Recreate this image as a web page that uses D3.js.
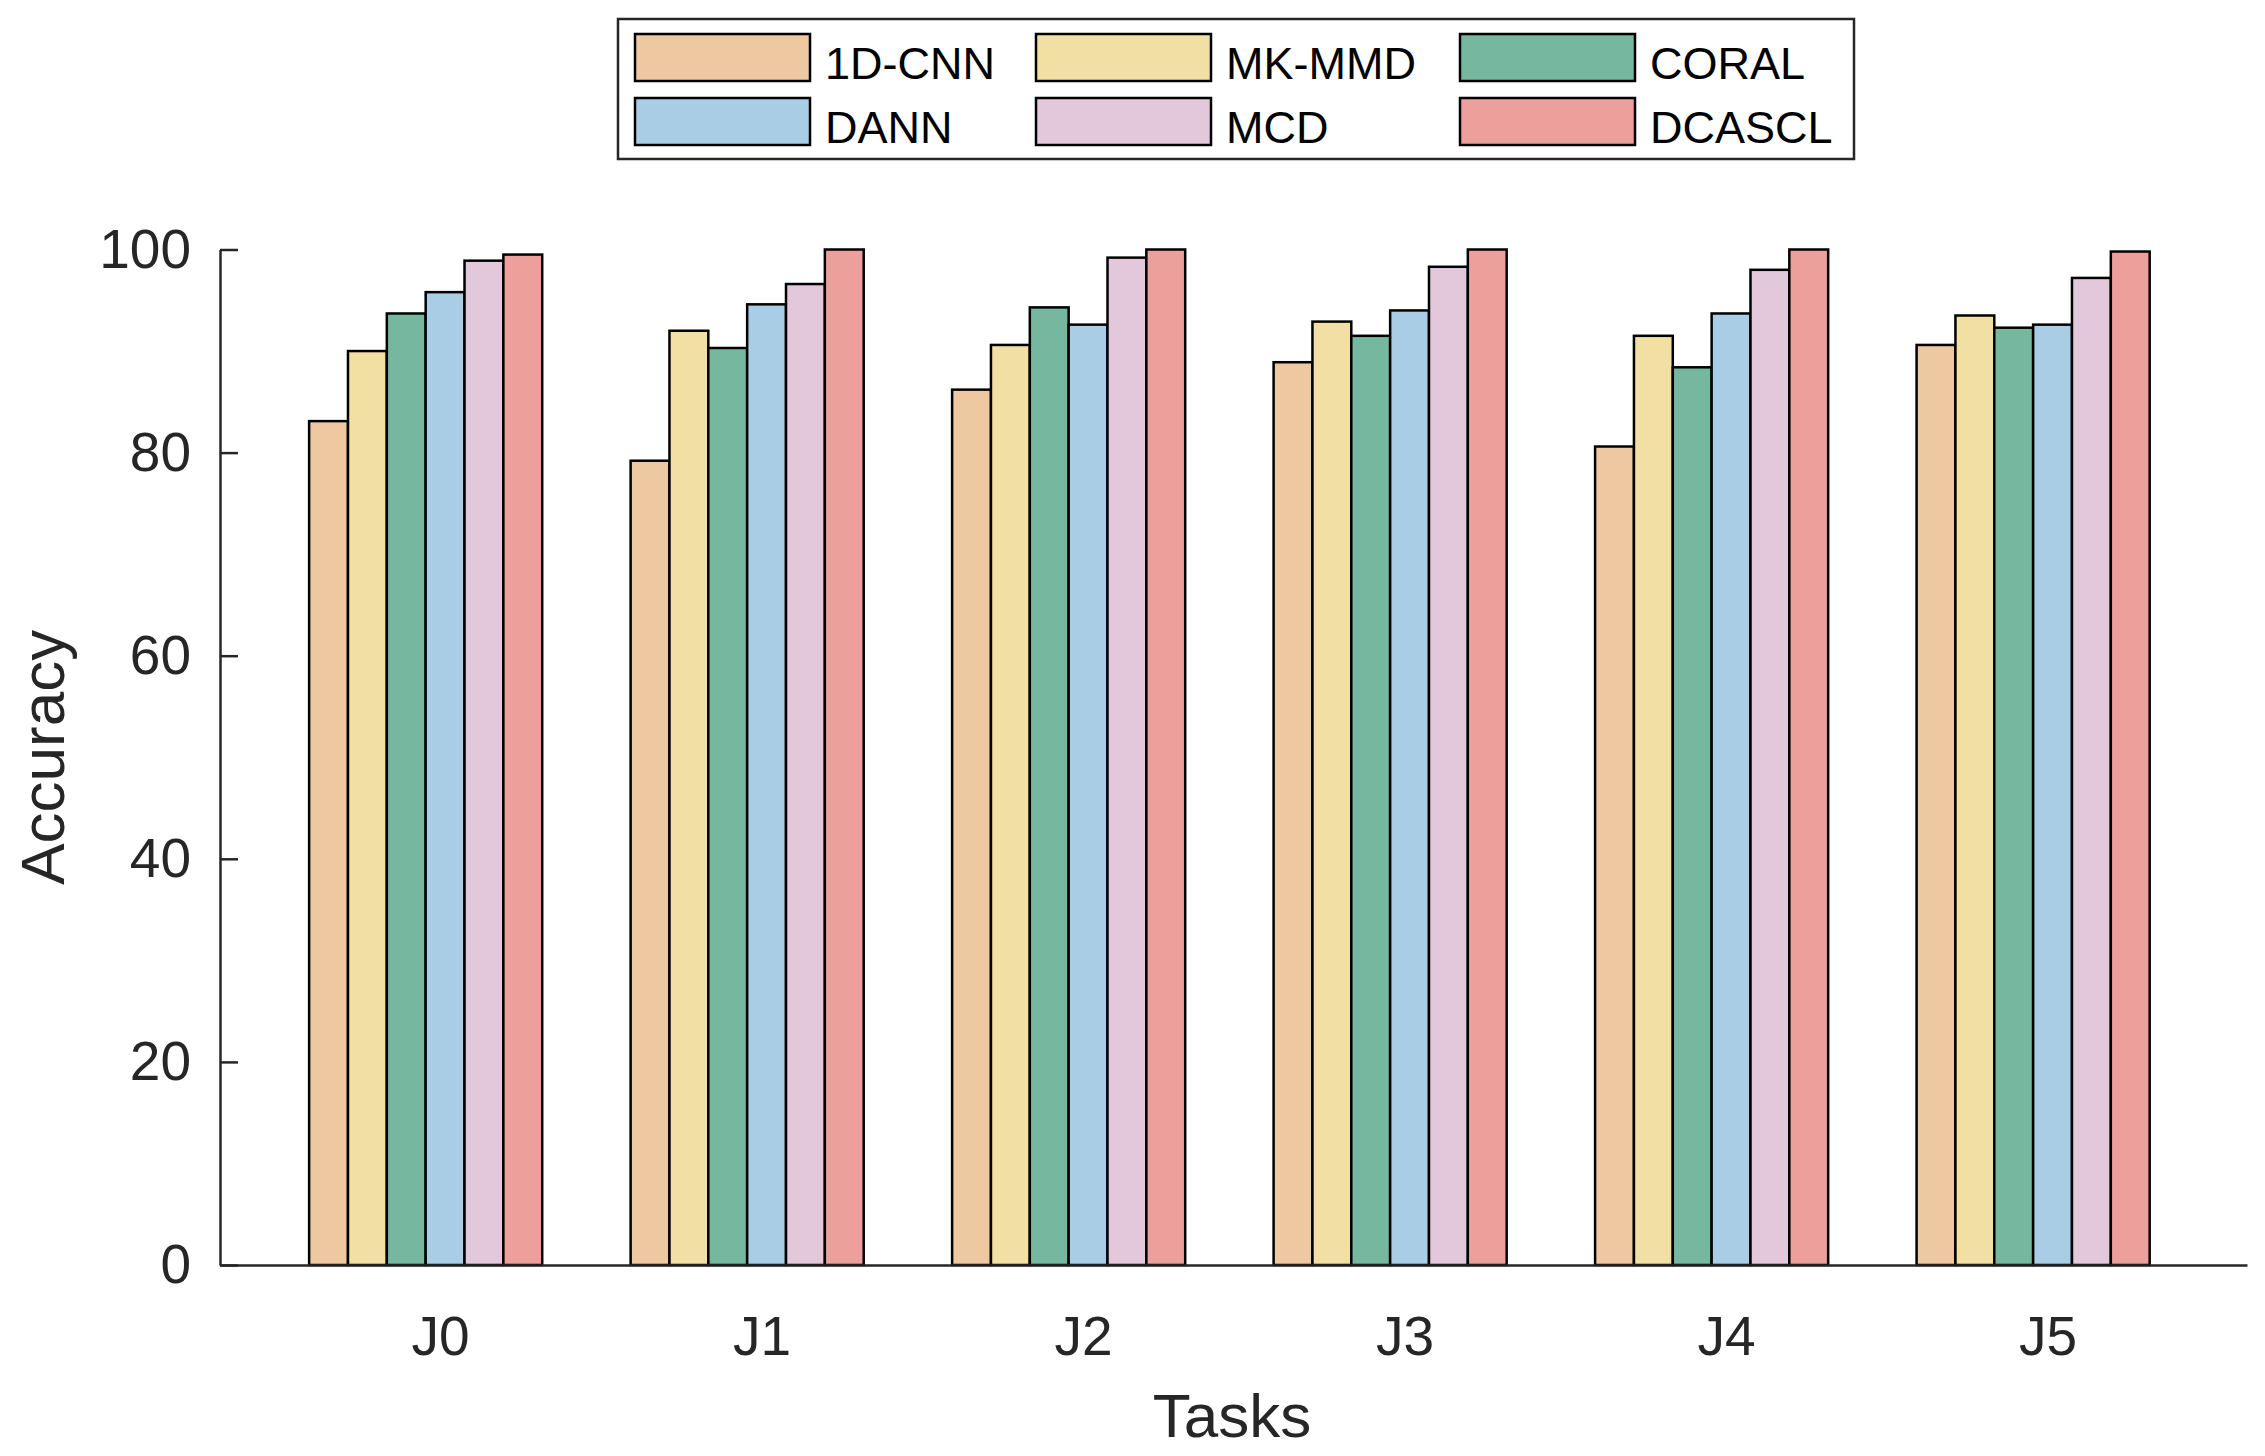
<!DOCTYPE html>
<html>
<head>
<meta charset="utf-8">
<title>Accuracy by task</title>
<script src="https://cdn.jsdelivr.net/npm/d3@7"></script>
<style>
    body { margin: 0; background: white; }
    #RankContainer { width: 2265px; height: 1456px; }
</style>
</head>
<body>
<div id="RankContainer"></div>
<script>
const Tasks = ["J0", "J1", "J2", "J3", "J4", "J5"];
const Methods = ["1D-CNN", "MK-MMD", "CORAL", "DANN", "MCD", "DCASCL"];
const MethodColors = ["#EEC8A0", "#F1DFA4", "#76B7A0", "#A8CDE4", "#E2C8DA", "#ED9F9B"];
const YTicks = [0, 20, 40, 60, 80, 100];

// one array per method, one value per task
const Cnn1D  = [83.1, 79.2, 86.2, 88.9, 80.6, 90.6];
const MkMmd  = [90.0, 92.0, 90.6, 92.9, 91.5, 93.5];
const Coral  = [93.7, 90.3, 94.3, 91.5, 88.4, 92.3];
const Dann   = [95.8, 94.6, 92.6, 94.0, 93.7, 92.6];
const Mcd    = [98.9, 96.6, 99.2, 98.3, 98.0, 97.2];
const Dcascl = [99.5, 100.0, 100.0, 100.0, 100.0, 99.8];

const SeriesValues = [Cnn1D, MkMmd, Coral, Dann, Mcd, Dcascl];

function BuildRows()
{
    return Tasks.map((Task, t) =>
    {
        return {
            Task: Task,
            Values: Methods.map((Method, m) => ({ Method: Method, Value: SeriesValues[m][t], Color: MethodColors[m] }))
        };
    });
}

function DrawChart(Rows)
{
    const Width = 2265;
    const Height = 1456;
    const FontFamily = '"Liberation Sans", Arial, Helvetica, sans-serif';
    const AxisColor = '#262626';
    const Plot = { left: 220, right: 2247, top: 249.5, bottom: 1265 };

    const Svg = d3.select('#RankContainer')
                  .append('svg')
                  .attr('width', Width)
                  .attr('height', Height)
                  .style('background-color', 'white')
                  .style('font-family', FontFamily);

    const xScale = d3.scaleBand()
                     .domain(Tasks)
                     .range([Plot.left, Plot.right])
                     .paddingInner(0.275)
                     .paddingOuter(0.29)
                     .align(0.478);
    const xInner = d3.scaleBand()
                     .domain(Methods)
                     .range([0, xScale.bandwidth()]);
    const yScale = d3.scaleLinear()
                     .domain([0, 100])
                     .range([Plot.bottom, Plot.top]);

    // bars
    Rows.forEach(Row =>
    {
        const Group = Svg.append('g')
                         .attr('transform', `translate(${xScale(Row.Task)}, 0)`);
        Group.selectAll('rect')
             .data(Row.Values)
             .enter()
             .append('rect')
             .attr('x', d => xInner(d.Method))
             .attr('y', d => yScale(d.Value))
             .attr('width', xInner.bandwidth())
             .attr('height', d => yScale(0) - yScale(d.Value))
             .attr('fill', d => d.Color)
             .attr('stroke', 'black')
             .attr('stroke-width', 2.5);
    });

    // y axis (ticks point inward like MATLAB)
    const yAxis = Svg.append('g')
                     .attr('transform', `translate(${Plot.left}, 0)`)
                     .call(d3.axisLeft(yScale).tickValues(YTicks).tickSizeInner(-18).tickSizeOuter(0).tickPadding(29));
    yAxis.select('.domain').attr('stroke', AxisColor).attr('stroke-width', 2.5);
    yAxis.selectAll('.tick line').attr('stroke', AxisColor).attr('stroke-width', 2.5);
    yAxis.selectAll('.tick text')
         .attr('fill', AxisColor)
         .style('font-family', FontFamily)
         .style('font-size', '55px');

    // x axis
    const xAxis = Svg.append('g')
                     .attr('transform', `translate(0, ${Plot.bottom})`)
                     .call(d3.axisBottom(xScale).tickSize(0).tickPadding(51));
    xAxis.select('.domain').attr('stroke', AxisColor).attr('stroke-width', 2.5);
    xAxis.selectAll('.tick text')
         .attr('fill', AxisColor)
         .attr('dx', 15)
         .style('font-family', FontFamily)
         .style('font-size', '55px');

    // axis titles
    Svg.append('text')
       .attr('x', 1232)
       .attr('y', 1437)
       .attr('text-anchor', 'middle')
       .attr('fill', AxisColor)
       .style('font-size', '62px')
       .text('Tasks');
    Svg.append('text')
       .attr('transform', `translate(64, ${(Plot.top + Plot.bottom) / 2}) rotate(-90)`)
       .attr('text-anchor', 'middle')
       .attr('fill', AxisColor)
       .style('font-size', '62px')
       .text('Accuracy');

    // legend, 3 columns x 2 rows
    const LegendX = [635, 1036, 1460];
    const LegendY = [34, 98];
    const Legend = Svg.append('g');
    Legend.append('rect')
          .attr('x', 618)
          .attr('y', 19)
          .attr('width', 1236)
          .attr('height', 140)
          .attr('fill', 'white')
          .attr('stroke', AxisColor)
          .attr('stroke-width', 2.5);
    Methods.forEach((Method, i) =>
    {
        const Col = i % 3;
        const Row = Math.floor(i / 3);
        const Item = Legend.append('g')
                           .attr('transform', `translate(${LegendX[Col]}, ${LegendY[Row]})`);
        Item.append('rect')
            .attr('width', 175)
            .attr('height', 47)
            .attr('fill', MethodColors[i])
            .attr('stroke', 'black')
            .attr('stroke-width', 2.5);
        Item.append('text')
            .attr('x', 190)
            .attr('y', 45)
            .attr('fill', 'black')
            .style('font-size', '45px')
            .text(Method);
    });
}

document.addEventListener('DOMContentLoaded', function()
{
    DrawChart(BuildRows());
});
</script>
</body>
</html>
